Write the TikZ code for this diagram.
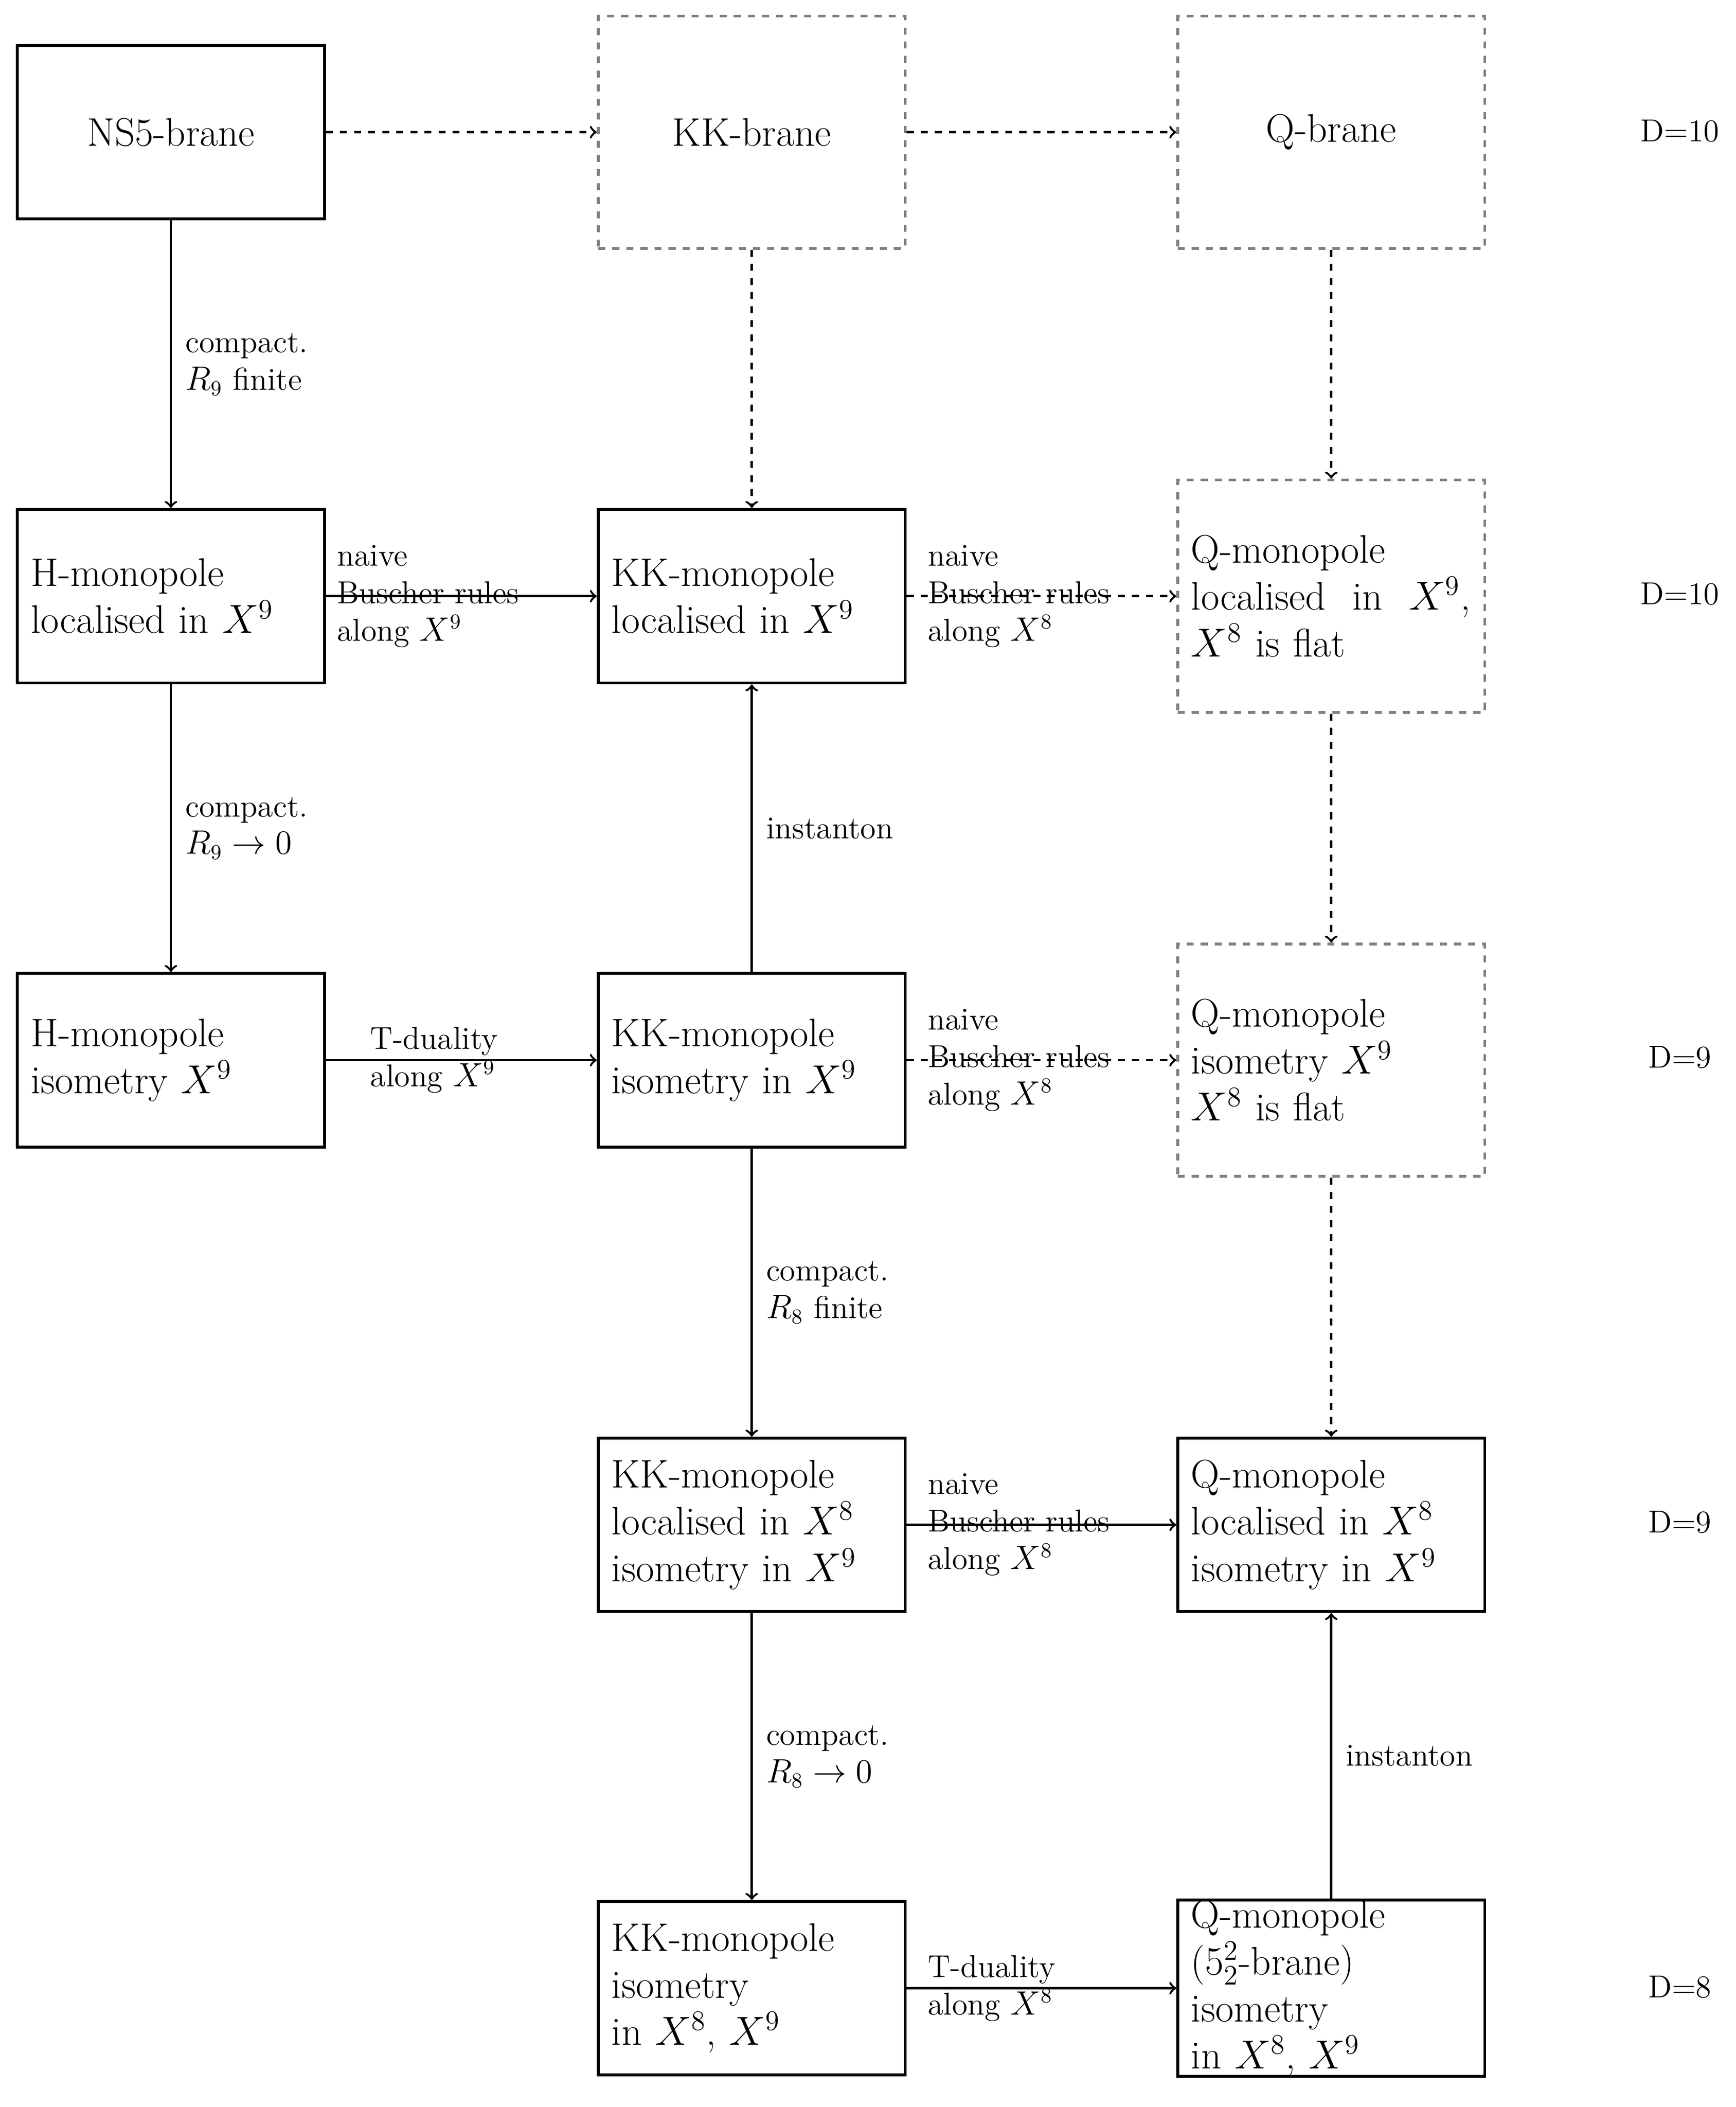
\documentclass[tikz,border=0pt]{standalone}
\usepackage{amsmath}
\begin{document}
\begin{tikzpicture}[
		box/.style={draw, line width=1.2pt, minimum width=4.6cm, minimum height=2.6cm, text width=4.2cm, align=left, inner ysep=1mm, font=\fontsize{17}{20}\selectfont},
		dbox/.style={box, draw=gray, dashed, minimum height=3.48cm},
		lab/.style={align=left, font=\fontsize{13.5}{16}\selectfont, inner sep=0pt},
		arr/.style={->, line width=1pt},
		darr/.style={->, dashed, line width=1pt}
	]
		\useasboundingbox (0, 0) rectangle (26, -31.56);

		\node[box, align=center] (ns5) at (2.56, -1.98) {NS5-brane};
		\node[dbox, align=center] (kkb) at (11.26, -1.98) {KK-brane};
		\node[dbox, align=center] (qb) at (19.94, -1.98) {Q-brane};

		\node[box] (hloc) at (2.56, -8.93) {H-monopole\\localised in $X^9$};
		\node[box] (kkloc) at (11.26, -8.93) {KK-monopole\\localised in $X^9$};
		\node[dbox] (qloc) at (19.94, -8.93) {Q-monopole\\localised\ \ in\ \ $X^9$,\\$X^8$ is flat};

		\node[box] (hiso) at (2.56, -15.88) {H-monopole\\isometry $X^9$};
		\node[box] (kkiso) at (11.26, -15.88) {KK-monopole\\isometry in $X^9$};
		\node[dbox] (qiso) at (19.94, -15.88) {Q-monopole\\isometry $X^9$\\$X^8$ is flat};

		\node[box] (kkloc8) at (11.26, -22.84) {KK-monopole\\localised in $X^8$\\isometry in $X^9$};
		\node[box] (qloc8) at (19.94, -22.84) {Q-monopole\\localised in $X^8$\\isometry in $X^9$};

		\node[box] (kkiso89) at (11.26, -29.78) {KK-monopole\\isometry\\in $X^8$, $X^9$};
		\node[box, inner ysep=0pt] (qiso89) at (19.94, -29.78) {Q-monopole\\($5^2_2$-brane)\\isometry\\in $X^8$, $X^9$};

		\node[lab] (d1) at (25.16, -1.96) {D=10};
		\node[lab] (d2) at (25.16, -8.9) {D=10};
		\node[lab] (d3) at (25.16, -15.84) {D=9};
		\node[lab] (d4) at (25.16, -22.8) {D=9};
		\node[lab] (d5) at (25.16, -29.76) {D=8};

		\draw[darr] (ns5) -- (kkb);
		\draw[darr] (kkb) -- (qb);
		\draw[darr] (kkb) -- (kkloc);
		\draw[darr] (qb) -- (qloc);
		\draw[darr] (qloc) -- (qiso);
		\draw[darr] (qiso) -- (qloc8);

		\draw[arr] (ns5) -- (hloc) node[lab, right=2mm, midway] {compact.\\$R_9$ finite};
		\draw[arr] (hloc) -- (hiso) node[lab, right=2mm, midway] {compact.\\$R_9\to 0$};
		\draw[arr] (kkiso) -- (kkloc) node[lab, right=2mm, midway] {instanton};
		\draw[arr] (kkiso) -- (kkloc8) node[lab, right=2mm, midway] {compact.\\$R_8$ finite};
		\draw[arr] (kkloc8) -- (kkiso89) node[lab, right=2mm, midway] {compact.\\$R_8\to 0$};
		\draw[arr] (qiso89) -- (qloc8) node[lab, right=2mm, midway] {instanton};

		\draw[arr] (hloc) -- (kkloc) node[lab, anchor=west, pos=0, xshift=1.5mm] {naive\\Buscher rules\\along $X^9$};
		\draw[darr] (kkloc) -- (qloc) node[lab, anchor=west, pos=0, xshift=3mm] {naive\\Buscher rules\\along $X^8$};
		\draw[arr] (hiso) -- (kkiso) node[lab, anchor=west, pos=0.16] {T-duality\\along $X^9$};
		\draw[darr] (kkiso) -- (qiso) node[lab, anchor=west, pos=0, xshift=3mm] {naive\\Buscher rules\\along $X^8$};
		\draw[arr] (kkloc8) -- (qloc8) node[lab, anchor=west, pos=0, xshift=3mm] {naive\\Buscher rules\\along $X^8$};
		\draw[arr] (kkiso89) -- (qiso89) node[lab, anchor=west, pos=0, xshift=3mm] {T-duality\\along $X^8$};
	\end{tikzpicture}
\end{document}
